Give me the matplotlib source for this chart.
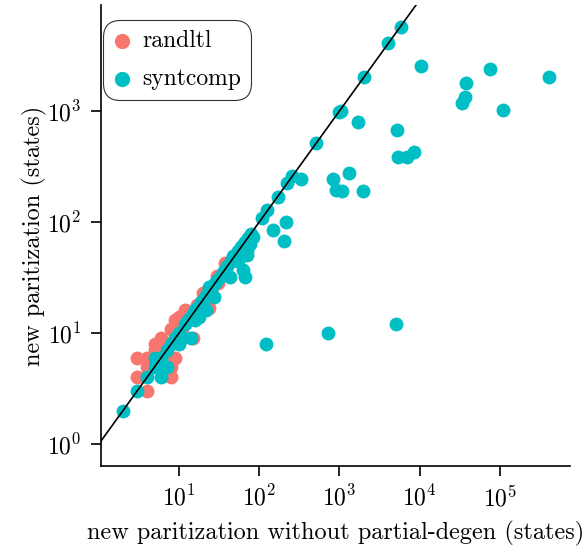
import matplotlib.pyplot as plt

plt.rcParams['font.family'] = ['cmr10', 'DejaVu Serif']
plt.rcParams['mathtext.fontset'] = 'cm'
plt.rcParams['axes.unicode_minus'] = False
plt.rcParams['axes.formatter.use_mathtext'] = True

# randltl (states without partial-degen, states with)
randltl_x = [3, 3, 4, 4, 5, 5, 8, 9, 7, 6, 8, 9, 11, 10, 15, 12, 20, 24, 31, 41,
             37, 9, 4, 6, 7, 5, 6, 13, 17, 25, 30, 8]
randltl_y = [4, 6, 3, 6, 7, 8, 4, 6, 6, 9, 11, 9, 10, 14, 9, 16, 23, 17, 28, 42,
             43, 13, 5, 7, 8, 6, 5, 13, 18, 24, 33, 5]

# syntcomp
syntcomp_x = [2, 3, 4, 5, 6, 6, 7, 7, 8, 5, 9, 10, 11, 10, 12, 13, 14, 14, 16, 15,
              16, 18, 17, 19, 21, 22, 23, 25, 24, 27, 28, 30, 33, 36, 40, 43, 45, 47,
              50, 55, 55, 60, 63, 66, 66, 70, 72, 78, 63, 84, 70, 77,
              107, 126, 169, 147, 213, 205, 223, 253, 328, 508, 820, 1310, 902, 1060,
              1937, 990, 1050, 2030, 4080, 5770, 1695, 5190, 5380, 6850, 8450,
              10500, 74600, 408000, 37500, 36400, 33400, 109000, 120, 722, 5040]
syntcomp_y = [2, 3, 4, 5, 4, 6, 7, 5, 8, 6, 9, 10, 9, 8, 12, 13, 14, 9, 13, 15,
              16, 14, 17, 19, 21, 16, 23, 25, 26, 21, 28, 30, 33, 36, 40, 32, 45, 49,
              50, 55, 45, 60, 37, 32, 66, 50, 72, 78, 62, 74, 56, 64,
              108, 128, 169, 85, 100, 67, 226, 260, 244, 512, 244, 278, 194, 190,
              192, 985, 1000, 2010, 4070, 5670, 791, 675, 388, 383, 428,
              2540, 2400, 2020, 1775, 1345, 1173, 1015, 8, 10, 12]

red = '#F8766D'
teal = '#00BFC4'

fig = plt.figure(figsize=(5.85, 5.52), dpi=100)
ax = fig.add_axes([0.1726, 0.156, 0.8014, 0.835])

ax.scatter(randltl_x, randltl_y, s=100, color=red, linewidths=0, label='randltl')
ax.scatter(syntcomp_x, syntcomp_y, s=100, color=teal, linewidths=0, label='syntcomp')
ax.axline((1, 1), (10, 10), color='black', lw=1.2, zorder=5)

ax.set_xscale('log')
ax.set_yscale('log')
ax.set_xlim(1.068, 7.4e5)
ax.set_ylim(0.638, 9000)
ax.set_xticks([1e1, 1e2, 1e3, 1e4, 1e5])
ax.set_yticks([1e0, 1e1, 1e2, 1e3])
ax.minorticks_off()
ax.tick_params(labelsize=17, length=7, width=1.2, pad=7)

for side in ['top', 'right']:
    ax.spines[side].set_visible(False)
for side in ['left', 'bottom']:
    ax.spines[side].set_linewidth(1.2)

ax.set_xlabel('new paritization without partial-degen (states)', fontsize=17.5, labelpad=7)
ax.set_ylabel('new paritization (states)', fontsize=17.5, labelpad=0)

leg = ax.legend(loc='upper left', bbox_to_anchor=(0.005, 0.967), fontsize=17,
                frameon=True, fancybox=True, edgecolor='black', markerscale=1.1,
                handletextpad=0.45, borderpad=0.4, labelspacing=0.7, handlelength=0.8,
                borderaxespad=0)
leg.get_frame().set_linewidth(0.8)
leg.get_frame().set_boxstyle('round', pad=0, rounding_size=0.7)

plt.savefig('out.png', dpi=100)
